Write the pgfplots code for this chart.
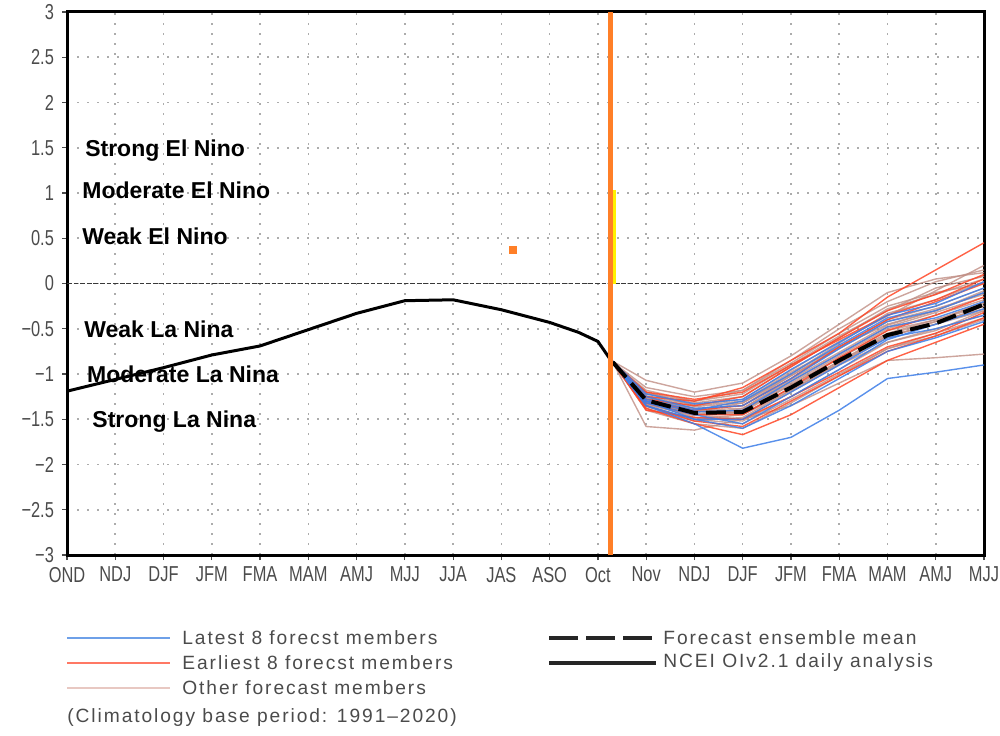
\documentclass[border=0pt]{standalone}
\usepackage{fontspec}
\setmainfont{Liberation Sans}
\newfontfamily\tickfont{Liberation Sans}[FakeStretch=0.76]
\newfontfamily\legfont{Liberation Sans}[LetterSpace=10]
\usepackage{pgfplots}
\usepackage{pgfplotstable}
\pgfplotsset{compat=1.18}

\definecolor{memblue}{RGB}{60,125,232}
\definecolor{memred}{RGB}{255,70,38}
\definecolor{memtan}{RGB}{192,142,132}
\definecolor{legblue}{RGB}{110,160,232}
\definecolor{legred}{RGB}{255,120,100}
\definecolor{legtan}{RGB}{232,200,194}
\definecolor{vorange}{RGB}{255,127,39}
\definecolor{ticktext}{RGB}{75,75,75}

% observed (NCEI OIv2.1 daily analysis)
\pgfplotstableread{
x y
0 -1.19
1 -1.06
2 -0.93
3 -0.79
4 -0.69
5 -0.51
6 -0.33
7 -0.19
8 -0.18
9 -0.29
10 -0.43
10.6 -0.54
11 -0.64
11.31 -0.88
}\tobs

% forecast ensemble mean
\pgfplotstableread{
x y
11.31 -0.87
12 -1.29
13 -1.43
14 -1.42
15 -1.15
16 -0.85
17 -0.57
18 -0.44
19 -0.23
}\tmean

% latest 8 members
\pgfplotstableread{
x b1 b2 b3 b4 b5 b6 b7 b8
11.31 -0.87 -0.87 -0.86 -0.87 -0.88 -0.86 -0.87 -0.87
12 -1.35 -1.30 -1.25 -1.28 -1.32 -1.22 -1.35 -1.30
13 -1.55 -1.50 -1.38 -1.40 -1.45 -1.33 -1.50 -1.42
14 -1.82 -1.60 -1.35 -1.30 -1.55 -1.28 -1.50 -1.40
15 -1.70 -1.35 -1.05 -1.00 -1.25 -0.95 -1.20 -1.08
16 -1.40 -1.05 -0.72 -0.68 -0.95 -0.65 -0.90 -0.78
17 -1.05 -0.75 -0.42 -0.38 -0.62 -0.35 -0.60 -0.48
18 -0.98 -0.60 -0.30 -0.25 -0.45 -0.22 -0.50 -0.38
19 -0.90 -0.42 -0.10 -0.05 -0.28 0.02 -0.35 -0.20
}\tblue

% earliest 8 members
\pgfplotstableread{
x r1 r2 r3 r4 r5 r6 r7 r8
11.31 -0.86 -0.87 -0.88 -0.87 -0.87 -0.86 -0.88 -0.87
12 -1.25 -1.32 -1.38 -1.28 -1.40 -1.30 -1.35 -1.20
13 -1.30 -1.45 -1.55 -1.35 -1.48 -1.40 -1.52 -1.28
14 -1.15 -1.45 -1.67 -1.25 -1.50 -1.35 -1.58 -1.20
15 -0.85 -1.15 -1.45 -0.92 -1.25 -1.05 -1.30 -0.90
16 -0.55 -0.82 -1.15 -0.60 -0.98 -0.70 -1.02 -0.62
17 -0.15 -0.52 -0.85 -0.30 -0.70 -0.40 -0.75 -0.35
18 0.15 -0.35 -0.65 -0.12 -0.55 -0.20 -0.58 -0.18
19 0.45 -0.15 -0.45 0.10 -0.32 0.00 -0.38 0.05
}\tred

% other 24 members
\pgfplotstableread{
x o1 o2 o3 o4 o5 o6 o7 o8 o9 o10 o11 o12 o13 o14 o15 o16 o17 o18 o19 o20 o21 o22 o23 o24
11.31 -0.87 -0.86 -0.87 -0.88 -0.87 -0.86 -0.87 -0.88 -0.87 -0.86 -0.87 -0.88 -0.87 -0.86 -0.87 -0.88 -0.87 -0.86 -0.87 -0.88 -0.87 -0.86 -0.87 -0.88
12 -1.58 -1.07 -1.15 -1.20 -1.25 -1.30 -1.35 -1.28 -1.22 -1.32 -1.40 -1.18 -1.27 -1.33 -1.25 -1.38 -1.30 -1.24 -1.36 -1.29 -1.21 -1.34 -1.26 -1.31
13 -1.62 -1.20 -1.25 -1.35 -1.40 -1.45 -1.50 -1.42 -1.32 -1.48 -1.55 -1.30 -1.38 -1.45 -1.36 -1.52 -1.40 -1.34 -1.50 -1.44 -1.30 -1.46 -1.38 -1.42
14 -1.50 -1.10 -1.18 -1.30 -1.45 -1.50 -1.55 -1.40 -1.25 -1.52 -1.60 -1.22 -1.35 -1.42 -1.32 -1.48 -1.38 -1.28 -1.45 -1.40 -1.18 -1.38 -1.44 -1.32
15 -1.20 -0.80 -0.88 -0.98 -1.18 -1.35 -1.28 -1.10 -0.92 -1.25 -1.32 -0.90 -1.02 -1.12 -1.00 -1.18 -1.08 -0.96 -1.15 -1.12 -0.85 -1.06 -1.16 -1.02
16 -0.90 -0.45 -0.55 -0.70 -0.88 -1.10 -1.00 -0.80 -0.60 -0.95 -1.02 -0.58 -0.72 -0.82 -0.66 -0.88 -0.78 -0.64 -0.86 -0.83 -0.50 -0.76 -0.86 -0.70
17 -0.65 -0.10 -0.25 -0.45 -0.58 -0.85 -0.72 -0.50 -0.28 -0.65 -0.72 -0.30 -0.42 -0.55 -0.33 -0.60 -0.48 -0.36 -0.58 -0.52 -0.20 -0.46 -0.56 -0.40
18 -0.50 0.05 -0.10 -0.30 -0.45 -0.82 -0.58 -0.35 -0.12 -0.52 -0.55 -0.05 -0.28 -0.40 -0.18 -0.42 -0.32 -0.08 -0.45 -0.40 0.02 -0.30 -0.42 -0.25
19 -0.35 0.12 0.00 -0.10 -0.25 -0.78 -0.40 -0.18 0.05 -0.30 -0.38 0.08 -0.12 -0.22 0.02 -0.28 -0.15 0.20 -0.30 -0.25 0.15 -0.08 -0.20 -0.05
}\tother

\begin{document}
\begin{tikzpicture}
\useasboundingbox (-33.5pt,-90pt) rectangle (466.5pt,277.5pt);
\begin{axis}[
  at={(0,0)}, anchor=south west,
  scale only axis, width=458.5pt, height=271.5pt,
  xmin=0, xmax=19, ymin=-3, ymax=3,
  xtick={0,...,19},
  xticklabels={OND,NDJ,DJF,JFM,FMA,MAM,AMJ,MJJ,JJA,JAS,ASO,Oct,Nov,NDJ,DJF,JFM,FMA,MAM,AMJ,MJJ},
  ytick={-3,-2.5,...,3},
  yticklabels={−3,−2.5,−2,−1.5,−1,−0.5,0,0.5,1,1.5,2,2.5,3},
  tick pos=left,
  tick align=outside,
  major tick length=2.5pt,
  tick style={ticktext, line width=0.6pt},
  xticklabel style={font=\tickfont\fontsize{10.8}{11}\selectfont, text=ticktext},
  yticklabel style={font=\tickfont\fontsize{10.8}{11}\selectfont, text=ticktext, xshift=-0.5pt},
  grid=major,
  major grid style={gray!65, line width=0.8pt, dash pattern=on 0.8pt off 4.2pt},
  axis line style={black, line width=1.5pt},
  clip mode=individual,
]
% zero line
\addplot[gray!45!black, line width=0.9pt, dash pattern=on 2.4pt off 0.9pt] coordinates {(0,0) (19,0)};

% other members
\pgfplotsinvokeforeach{1,...,24}{
  \addplot[memtan, line width=0.7pt, opacity=0.8] table[x=x, y=o#1] {\tother};
}
% earliest 8 members
\pgfplotsinvokeforeach{1,...,8}{
  \addplot[memred, line width=0.7pt, opacity=0.85] table[x=x, y=r#1] {\tred};
}
% latest 8 members
\pgfplotsinvokeforeach{1,...,8}{
  \addplot[memblue, line width=0.7pt, opacity=0.85] table[x=x, y=b#1] {\tblue};
}
% ensemble mean
\addplot[black, line width=2pt, dash pattern=on 10pt off 4pt] table[x=x, y=y] {\tmean};
% observed
\addplot[black, line width=1.5pt] table[x=x, y=y] {\tobs};

% vertical markers
\addplot[vorange, line width=2.6pt] coordinates {(11.26,-3) (11.26,3)};
\addplot[yellow, line width=1.2pt] coordinates {(11.345,0) (11.345,1.03)};
\addplot[only marks, mark=square*, mark size=1.7pt, mark options={vorange, draw=vorange}] coordinates {(9.24,0.37)};

% category labels
\node[anchor=base west, inner sep=0pt, font=\bfseries\fontsize{11.5}{13}\selectfont] at (axis cs:0.37,1.40) {Strong El Nino};
\node[anchor=base west, inner sep=0pt, font=\bfseries\fontsize{11.5}{13}\selectfont] at (axis cs:0.31,0.935) {Moderate El Nino};
\node[anchor=base west, inner sep=0pt, font=\bfseries\fontsize{11.5}{13}\selectfont] at (axis cs:0.31,0.43) {Weak El Nino};
\node[anchor=base west, inner sep=0pt, font=\bfseries\fontsize{11.5}{13}\selectfont] at (axis cs:0.35,-0.60) {Weak La Nina};
\node[anchor=base west, inner sep=0pt, font=\bfseries\fontsize{11.5}{13}\selectfont] at (axis cs:0.41,-1.09) {Moderate La Nina};
\node[anchor=base west, inner sep=0pt, font=\bfseries\fontsize{11.5}{13}\selectfont] at (axis cs:0.52,-1.59) {Strong La Nina};
\end{axis}

% legend
\begin{scope}[every node/.style={anchor=west, inner sep=0pt, text=ticktext, font=\legfont\fontsize{9.6}{10}\selectfont}]
\draw[legblue, line width=1pt] (0pt,-41.5pt) -- (51.5pt,-41.5pt);
\node at (57.5pt,-41.5pt) {Latest 8 forecst members};
\draw[legred, line width=1pt] (0pt,-54pt) -- (51.5pt,-54pt);
\node at (57.5pt,-54pt) {Earliest 8 forecst members};
\draw[legtan, line width=1pt] (0pt,-66.5pt) -- (51.5pt,-66.5pt);
\node at (57.5pt,-66.5pt) {Other forecast members};
\node at (0pt,-81.5pt) {(Climatology base period: 1991–2020)};
\draw[black!85, line width=2pt, dash pattern=on 14.5pt off 4pt] (241pt,-41.5pt) -- (294.5pt,-41.5pt);
\node at (298pt,-41.5pt) {Forecast ensemble mean};
\draw[black!85, line width=2pt] (241pt,-54pt) -- (294.5pt,-54pt);
\node at (298pt,-54pt) {NCEI OIv2.1 daily analysis};
\end{scope}
\end{tikzpicture}
\end{document}
